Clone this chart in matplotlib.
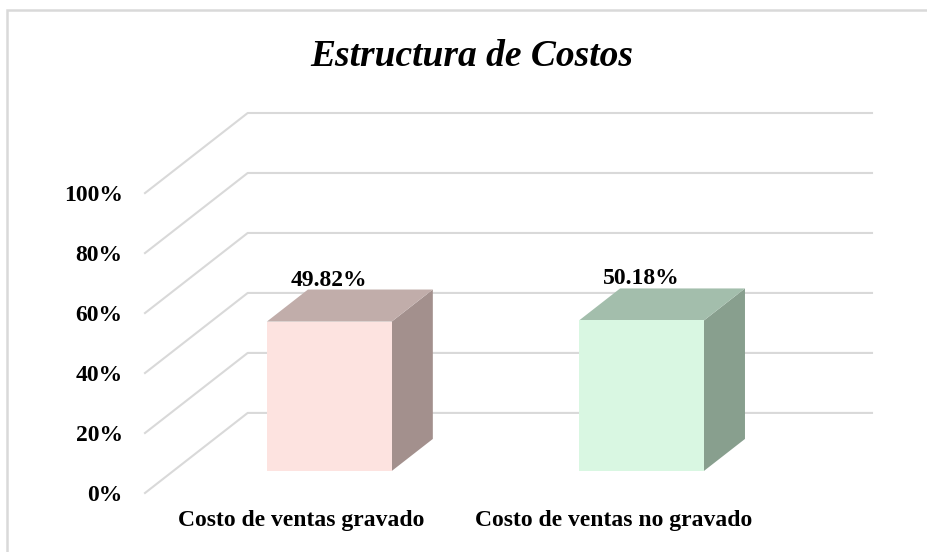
import matplotlib
matplotlib.use('Agg')
import matplotlib.pyplot as plt
from matplotlib.patches import Polygon, Rectangle

categories = ['Costo de ventas gravado', 'Costo de ventas no gravado']
values = [0.4982, 0.5018]
value_labels = ['49.82%', '50.18%']
yticks = [0.0, 0.2, 0.4, 0.6, 0.8, 1.0]
ytick_labels = ['0%', '20%', '40%', '60%', '80%', '100%']

front_colors = ['#FDE3E0', '#D9F7E2']
top_colors = ['#C1ADAA', '#A3BEAC']
side_colors = ['#A3908D', '#889F8E']
grid_color = '#D9D9D9'

# oblique projection: depth 0 = front, 1 = back wall
DX, DY = 0.329, 0.267
BAR_W = 0.4
D0, D1 = 0.275, 0.675


def proj(x, y, d):
    return (x + d * DX, y + d * DY)


plt.rcParams['font.family'] = ['Liberation Serif', 'DejaVu Serif']

fig = plt.figure(figsize=(9.28, 5.52), dpi=100)
W, H = 928, 552
ax = fig.add_axes([145 / W, (H - 493) / H, 727 / W, 380 / H])
ax.set_xlim(0, len(categories) + DX)
ax.set_ylim(0, 1 + DY)
for s in ax.spines.values():
    s.set_visible(False)

# grid: diagonal on the left side wall, then horizontal on the back wall
for v in yticks:
    xs = [0, DX, len(categories) + DX]
    ys = [v, v + DY, v + DY]
    ax.plot(xs, ys, color=grid_color, lw=1.5, zorder=1, clip_on=False)

# bars
for i, val in enumerate(values):
    xc = i + 0.5
    x0, x1 = xc - BAR_W / 2, xc + BAR_W / 2
    front = [proj(x0, 0, D0), proj(x1, 0, D0), proj(x1, val, D0), proj(x0, val, D0)]
    top = [proj(x0, val, D0), proj(x1, val, D0), proj(x1, val, D1), proj(x0, val, D1)]
    side = [proj(x1, 0, D0), proj(x1, 0, D1), proj(x1, val, D1), proj(x1, val, D0)]
    ax.add_patch(Polygon(side, closed=True, fc=side_colors[i], ec='none', zorder=3))
    ax.add_patch(Polygon(top, closed=True, fc=top_colors[i], ec='none', zorder=3))
    ax.add_patch(Polygon(front, closed=True, fc=front_colors[i], ec='none', zorder=4))
    lx, _ = proj(xc, val, D0)
    _, ly = proj(xc, val, D1)
    ax.annotate(value_labels[i], (lx, ly), xytext=(0, 4), textcoords='offset pixels',
                ha='center', va='baseline', fontsize=17, fontweight='bold', zorder=5)

ax.set_yticks(yticks)
ax.set_yticklabels(ytick_labels, fontsize=17, fontweight='bold')
ax.set_xticks([i + 0.5 for i in range(len(categories))])
ax.set_xticklabels(categories, fontsize=17, fontweight='bold')
ax.tick_params(axis='y', length=0, pad=16)
ax.tick_params(axis='x', length=0, pad=12)
ax.patch.set_visible(False)

fig.text(472 / W, 1 - 57 / H, 'Estructura de Costos', ha='center', va='center',
         fontsize=27, fontweight='bold', fontstyle='italic')

# chart area border
fig.patches.append(Rectangle((7 / W, -0.05), 1.2, 1.05 - 10 / H, transform=fig.transFigure,
                             fill=False, ec=grid_color, lw=1.8))

fig.savefig('out.png', dpi=100)
